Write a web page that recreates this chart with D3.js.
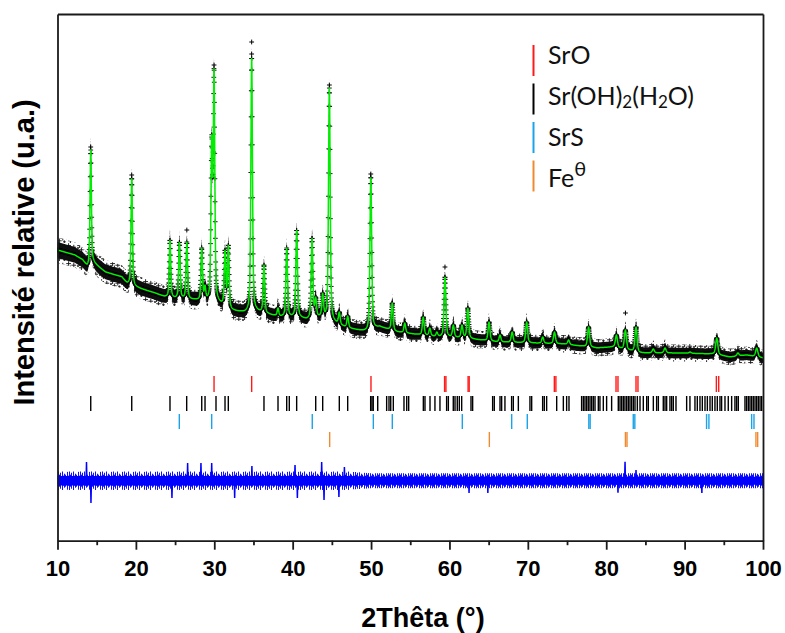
<!DOCTYPE html>
<html><head><meta charset="utf-8">
<script src="https://cdn.jsdelivr.net/npm/d3@7"></script>
<style>body{margin:0;background:#fff}svg{display:block}</style>
</head><body><svg id="c" width="785" height="633"></svg>
<script>
// ---------------- DATA ----------------
// background of the calculated profile: 2θ anchors and intensities (counts)
const bgX = [10,12.2,13.2,13.8,14.6,16.1,18.2,18.9,19.9,22.4,23.7,25,27.5,28.8,30.5,32.3,33.9,35.4,37.1,38.4,40.9,41.8,43.5,46.9,49.5,51.1,53.3,55.3,58.4,61.7,66.1,70.3,74.5,78.8,80.9,84.3,89.4,93.6,95.8,97.9,100];
const bgY = [2907,2857,2807,2737,2777,2687,2637,2567,2537,2477,2437,2420,2405,2385,2365,2297,2277,2287,2257,2237,2227,2207,2227,2127,2087,2137,2087,2067,2037,2027,1987,1977,1967,1927,1937,1877,1877,1867,1837,1857,1827];
// calculated peak positions (2θ) and peak-top intensities (counts)
const peakPos = [14.24,19.47,24.35,25.55,26.5,28.4,28.82,29.67,29.97,31.37,31.79,34.77,36.34,38.13,39.24,40.51,42.47,42.94,43.83,44.68,45.95,47.02,49.97,52.7,54.3,56.66,57.5,58.4,59.43,60.5,61.6,62.35,65.05,66.45,68.0,69.85,71.9,73.4,75.2,77.75,81.3,82.45,83.8,86.0,87.5,90.7,94.1,96.8,99.2];
const peakTop = [3907,3627,3007,2987,2987,2927,2557,4057,4727,2907,2957,4837,2757,2327,2927,3107,3027,2437,2477,4527,2287,2247,3637,2377,2177,2237,2127,2087,2637,2157,2157,2327,2187,2057,2087,2187,2037,2087,2007,2137,2057,2107,2137,1917,1927,1887,2027,1877,1927];
// peak width (FWHM, °2θ) anchors
const fwhmX = [10,100];
const fwhmV = [0.2,0.34];
// spread of the observed points around the calculated curve (counts, half width)
const noiseX = [10,20,40,60,100];
const noiseHalf = [112,98,86,78,72];
// observed points standing above the calculated peak tops
const obsTopX = [14.24,19.47,26.5,29.97,34.77,34.77,44.68,49.97,59.43,82.45];
const obsTopY = [3937,3657,3107,4757,4987,4867,4557,3667,2737,2277];
// difference curve (Yobs - Ycalc): offset, dense core and fringe half widths, isolated spikes
const diffZero = 600;
const diffHalfX = [10,47,50,100];
const diffCore = [48,48,40,40];
const diffFringe = [92,92,75,75];
const spikePos = [13.7,14.27,24.6,26.6,28.3,29.67,32.6,34.8,40.3,40.6,43.7,44.0,45.9,46.6,62.5,64.9,81.5,82.4,83.8,92.2];
const spikeVal = [187,-223,-173,177,177,177,-173,147,157,-173,187,-193,-163,137,-123,-123,-120,190,107,-123];
// Bragg reflection positions (°2θ) of each phase
const posSrO = [29.97,34.77,49.99,59.38,59.55,62.38,62.52,73.38,73.58,81.25,81.5,83.8,84.05,94.05,94.35];
const posSrOH = [14.24,19.47,24.35,26.48,28.40,28.82,30.22,31.37,31.79,36.34,38.13,39.24,39.57,40.51,42.94,43.83,45.95,47.02,49.95,50.12,50.28,50.85,51.99,52.29,52.51,52.84,54.2,54.55,54.8,56.67,56.88,57.52,58.15,58.79,59.64,59.86,60.49,60.71,61.0,61.26,61.56,62.75,62.96,65.51,65.72,66.45,66.66,67.08,67.93,68.15,68.79,70.27,70.49,71.89,72.1,72.4,73.68,74.53,74.95,75.25,76.86,77.08,77.29,77.5,77.71,77.93,78.14,78.35,78.57,78.99,79.2,79.63,80.05,80.69,81.54,81.76,81.97,82.18,82.39,82.61,82.82,83.03,83.24,83.46,83.67,83.97,84.31,84.73,85.16,85.37,86.01,86.43,86.65,87.28,87.5,87.71,88.13,88.35,88.56,88.9,90.26,90.68,91.32,91.62,91.96,92.26,92.6,92.9,93.24,93.53,93.87,94.17,94.51,94.72,95.15,95.57,96.0,96.42,96.64,96.85,97.7,97.91,98.13,98.34,98.55,98.76,98.98,99.19,99.4,99.62,99.83];
const posSrS = [25.54,29.67,42.5,50.29,52.71,61.64,67.94,69.93,77.78,77.95,83.45,83.65,92.8,93.1,98.55,98.85];
const posFe = [44.72,65.09,82.45,82.65,99.1,99.32];
// axis ticks
const xTicks = [10,20,30,40,50,60,70,80,90,100];
const xMinor = [15,25,35,45,55,65,75,85,95];
// legend
const phaseColors = ["#ff1a1a","#000000","#1aa3e8","#f08a30"];
const legendParts = [
  [["SrO",""]],
  [["Sr(OH)",""],["2","sub"],["(H",""],["2","sub"],["O)",""]],
  [["SrS",""]],
  [["Fe",""],["θ","sup"]]
];
const xLabel = "2Thêta (°)";
const yLabel = "Intensité relative (u.a.)";

// ---------------- LAYOUT ----------------
const P = {left:57.5, right:763, top:14, bottom:540.7};
const svg = d3.select('#c');
const x = d3.scaleLinear().domain([10,100]).range([P.left,P.right]);
const y = d3.scaleLinear().domain([0,5267]).range([P.bottom,P.top]);

const bg = d3.scaleLinear().domain(bgX).range(bgY);
const fw = d3.scaleLinear().domain(fwhmX).range(fwhmV);
const nz = d3.scaleLinear().domain(noiseX).range(noiseHalf);
const dc = d3.scaleLinear().domain(diffHalfX).range(diffCore);
const df = d3.scaleLinear().domain(diffHalfX).range(diffFringe);
const ETA = 0.5;
function pv(dx,w){const r=dx/w, r2=4*r*r; return ETA/(1+r2)+(1-ETA)*Math.exp(-Math.LN2*r2);}
// peak amplitudes so that the profile passes through the read peak tops
let amp = peakTop.map((t,i)=>Math.max(0,t-bg(peakPos[i])));
for(let it=0;it<15;it++){
  amp = peakPos.map((p,i)=>{let s=0; peakPos.forEach((q,j)=>{if(j!==i) s+=amp[j]*pv(p-q,fw(q));}); return Math.max(0,peakTop[i]-bg(p)-s);});
}
const grid = d3.range(0,4501).map(k=>10+k*0.02);
const calc = grid.map(t=>{let s=bg(t); for(let j=0;j<peakPos.length;j++){const d=t-peakPos[j]; if(Math.abs(d)<8) s+=amp[j]*pv(d,fw(peakPos[j]));} return {x:t,c:s};});

const defs = svg.append('defs');
defs.append('clipPath').attr('id','clip').append('rect')
  .attr('x',P.left).attr('y',P.top).attr('width',P.right-P.left).attr('height',P.bottom-P.top);
// texture of scattered "+" markers for the sparse fringe of the observed points
const cross = (X,Y,s)=>`M${(X-s).toFixed(2)},${Y.toFixed(2)}h${2*s}M${X.toFixed(2)},${(Y-s).toFixed(2)}v${2*s}`;
const pt = defs.append('pattern').attr('id','obsTex').attr('patternUnits','userSpaceOnUse').attr('width',11).attr('height',9);
pt.append('path').attr('d',cross(2.6,2.6,2.4)+cross(7.8,4.2,2.4)+cross(4.4,6.8,2.3)+cross(9.4,7.8,1.4)+cross(1,5,1))
  .attr('stroke','#1a1a1a').attr('stroke-width',0.95).attr('fill','none');
// texture of vertical noise strokes for the fringe of the difference curve
const dp = defs.append('pattern').attr('id','difTex').attr('patternUnits','userSpaceOnUse').attr('width',11).attr('height',24).attr('y',y(diffZero)-12);
const dLens = [4,9,5,11,6,8,3,10,5,7,6];
dp.append('path').attr('d',dLens.map((L,i)=>`M${i+0.5},${12-L}v${2*L}`).join(''))
  .attr('stroke','#1010ff').attr('stroke-width',1).attr('fill','none');

const g = svg.append('g').attr('clip-path','url(#clip)');

// observed scatter: fringe and dense core
const band = k=>d3.area().x(d=>x(d.x)).y0(d=>y(d.c-k*nz(d.x))).y1(d=>y(d.c+k*nz(d.x)));
g.append('path').attr('d',band(1.15)(calc)).attr('fill','url(#obsTex)');
g.append('path').attr('d',band(0.72)(calc)).attr('fill','#0d0d0d');
// observed points (crosses)
g.append('path').attr('d',calc.map(d=>cross(x(d.x),y(d.c),2.4)).join(''))
  .attr('stroke','#000').attr('stroke-width',0.9).attr('fill','none');
g.append('path').attr('d',obsTopX.map((v,i)=>cross(x(v),y(obsTopY[i]),2.4)).join(''))
  .attr('stroke','#000').attr('stroke-width',1).attr('fill','none');
// calculated profile
g.append('path').datum(calc).attr('d',d3.line().x(d=>x(d.x)).y(d=>y(d.c)))
  .attr('fill','none').attr('stroke','#00ee00').attr('stroke-width',1.5).attr('stroke-linejoin','round');

// Bragg positions rows (pixel rows, top/bottom)
const rows = [[376,392],[396,411],[414,429],[432,447]];
[posSrO,posSrOH,posSrS,posFe].forEach((arr,k)=>{
  g.append('g').selectAll('line').data(arr).join('line')
    .attr('x1',d=>x(d)).attr('x2',d=>x(d)).attr('y1',rows[k][0]).attr('y2',rows[k][1])
    .attr('stroke',phaseColors[k]).attr('stroke-width',1.4);
});

// difference curve
const dgrid = d3.range(0,181).map(k=>10+k*0.5);
g.append('path').datum(dgrid)
  .attr('d',d3.area().x(d=>x(d)).y0(d=>y(diffZero-df(d))).y1(d=>y(diffZero+df(d))))
  .attr('fill','url(#difTex)');
g.append('path').datum(dgrid)
  .attr('d',d3.area().x(d=>x(d)).y0(d=>y(diffZero-dc(d))).y1(d=>y(diffZero+dc(d))))
  .attr('fill','#0000ff');
const sl = d3.line().x(d=>x(d[0])).y(d=>y(diffZero+d[1]));
g.append('g').selectAll('path').data(spikePos.map((p,i)=>[[p-0.05,0],[p,spikeVal[i]],[p+0.05,0]]))
  .join('path').attr('d',sl).attr('fill','#0000ff').attr('stroke','#0000ff').attr('stroke-width',1.5);

// axes
const AX = "'Liberation Sans', Arial, sans-serif";
const xa = svg.append('g').attr('transform',`translate(0,${P.bottom})`)
  .call(d3.axisBottom(x).tickValues(xTicks).tickSize(9).tickPadding(11).tickSizeOuter(0).tickFormat(d3.format('d')));
xa.selectAll('text').attr('font-family',AX).attr('font-weight','bold').attr('font-size',22).attr('fill','#000');
const xm = svg.append('g').attr('transform',`translate(0,${P.bottom})`)
  .call(d3.axisBottom(x).tickValues(xMinor).tickSize(4.5).tickFormat(''));
xm.select('.domain').remove();
const ya = svg.append('g').attr('transform',`translate(${P.left},0)`).call(d3.axisLeft(y).tickValues([]).tickSizeOuter(0));
const ta = svg.append('g').attr('transform',`translate(0,${P.top})`).call(d3.axisTop(x).tickValues([]).tickSizeOuter(0));
const ra = svg.append('g').attr('transform',`translate(${P.right},0)`).call(d3.axisRight(y).tickValues([]).tickSizeOuter(0));
[xa,xm,ya,ta,ra].forEach(a=>{a.selectAll('.domain,line').attr('stroke','#1a1a1a').attr('stroke-width',1.8);});

// axis titles
svg.append('text').attr('x',423).attr('y',627).attr('text-anchor','middle')
  .attr('font-family',AX).attr('font-weight','bold').attr('font-size',27).text(xLabel);
svg.append('text').attr('transform','translate(34,252.5) rotate(-90)').attr('text-anchor','middle')
  .attr('font-family',AX).attr('font-weight','bold').attr('font-size',29).text(yLabel);

// legend
const LF = "Lato, 'Open Sans', sans-serif";
const lg = svg.append('g');
legendParts.forEach((parts,i)=>{
  lg.append('line').attr('x1',533.5).attr('x2',533.5).attr('y1',45+i*38.5).attr('y2',76+i*38.5)
    .attr('stroke',phaseColors[i]).attr('stroke-width',2);
  const t = lg.append('text').attr('x',548).attr('y',63.5+i*41).attr('font-family',LF).attr('font-size',25).attr('fill','#111');
  let acc = 0;
  parts.forEach(([s,kind])=>{
    const want = kind==='sub' ? 3 : (kind==='sup' ? -11 : 0);
    const ts = t.append('tspan').text(s).attr('dy',want-acc);
    acc = want;
    if(kind==='sub') ts.attr('font-size',17);
    if(kind==='sup') ts.attr('font-size',20);
  });
});
</script></body></html>
